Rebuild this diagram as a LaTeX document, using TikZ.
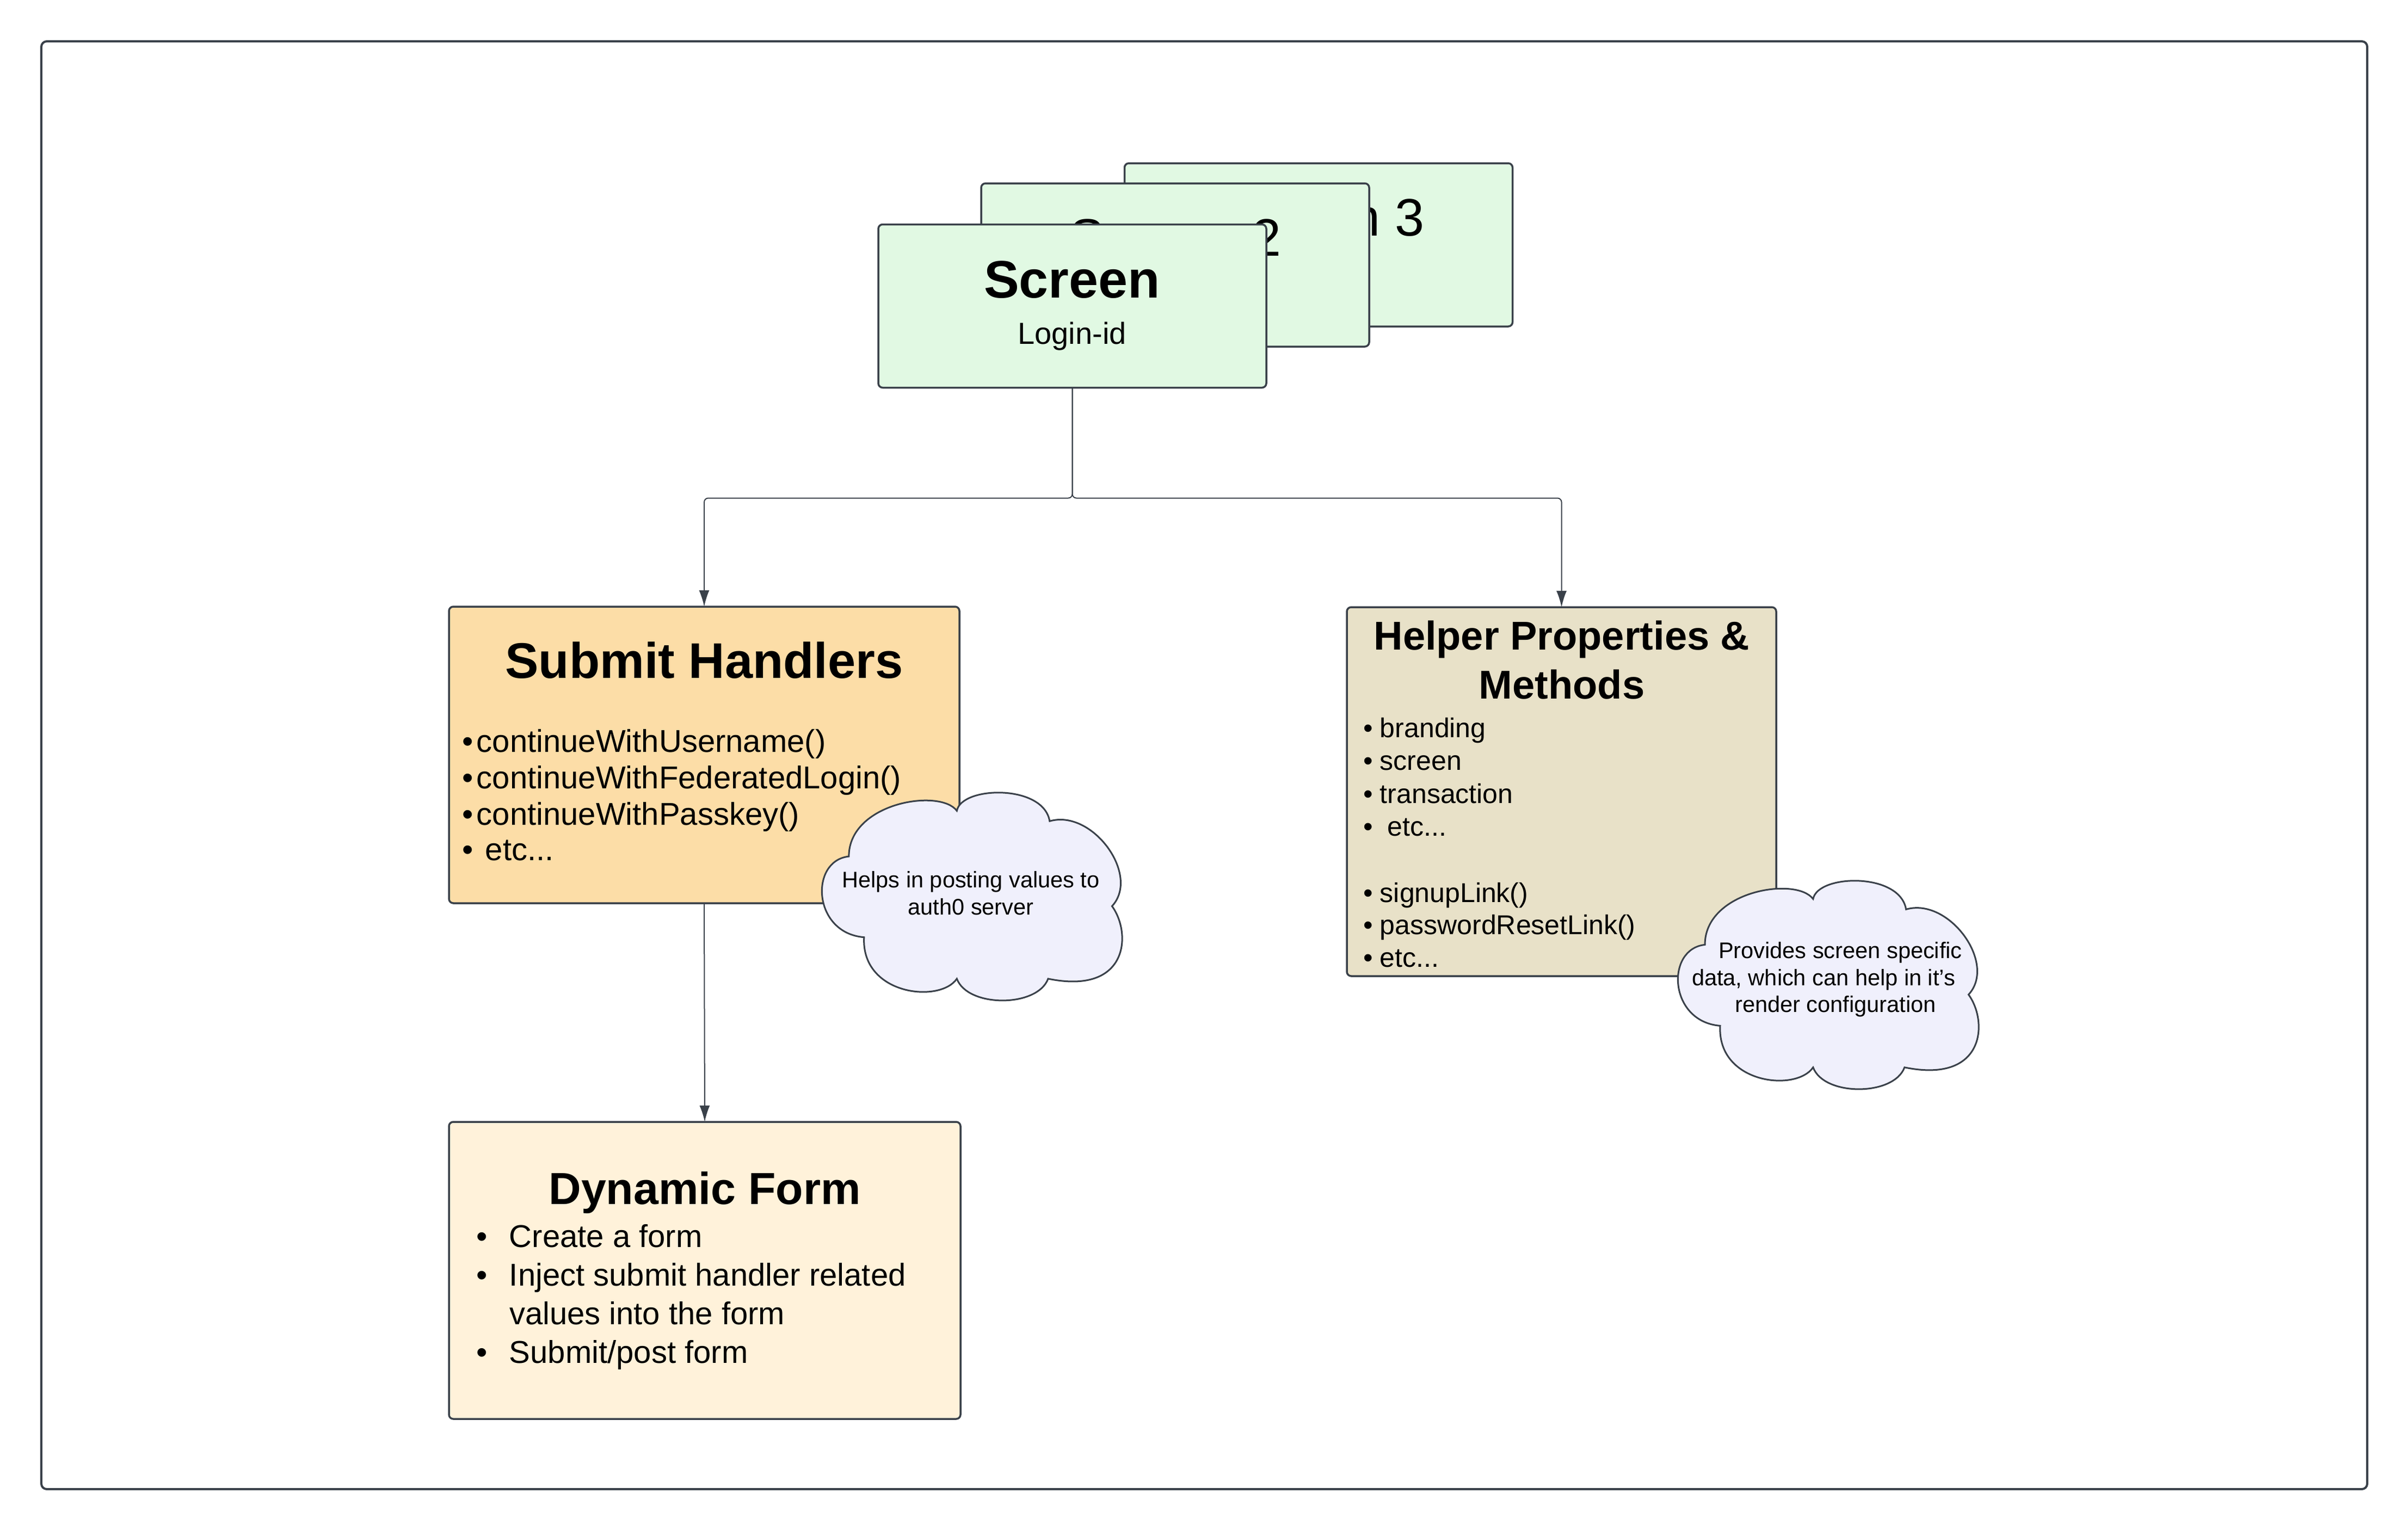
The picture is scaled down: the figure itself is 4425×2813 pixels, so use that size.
\documentclass[tikz,border=0pt]{standalone}
\usepackage{fontspec}
\setmainfont{Liberation Sans}
\usetikzlibrary{arrows.meta}
\definecolor{strokec}{HTML}{3A414A}
\definecolor{screenfill}{HTML}{E1F9E3}
\definecolor{submitfill}{HTML}{FCDDA7}
\definecolor{helperfill}{HTML}{E8E1C8}
\definecolor{dynfill}{HTML}{FFF2DA}
\definecolor{cloudfill}{HTML}{F0F0FC}
\newcommand\myfs[1]{\fontsize{#1}{#1}\selectfont}
\newcommand\cloudshape{(0.10,0.31) .. controls (0.10,0.05) and (0.40,-0.02) .. (0.455,0.09)
 .. controls (0.47,-0.03) and (0.74,-0.04) .. (0.76,0.14)
 .. controls (0.90,0.08) and (1.06,0.40) .. (0.965,0.55)
 .. controls (1.03,0.68) and (1.02,0.98) .. (0.755,0.90)
 .. controls (0.72,1.04) and (0.49,1.04) .. (0.455,0.90)
 .. controls (0.40,1.02) and (0.14,0.98) .. (0.15,0.70)
 .. controls (-0.02,0.68) and (-0.03,0.33) .. (0.10,0.31) -- cycle}
\begin{document}
\begin{tikzpicture}[x=0.2pt,y=-0.2pt,
  box/.style={draw=strokec, line width=0.7pt, rounded corners=1.6pt, inner sep=0pt, outer sep=0pt},
  txt/.style={inner sep=0pt, outer sep=0pt, text=black},
  ctr/.style={txt, anchor=base},
  lft/.style={txt, anchor=base west},
  conn/.style={draw=strokec, line width=0.4pt, -{Latex[length=6pt,width=3.8pt]}},
  cloudsty/.style={draw=strokec, line width=0.6pt, fill=cloudfill}]
\useasboundingbox (0,0) rectangle (4425,2813);
% frame
\node[box, line width=0.8pt, rounded corners=2pt, minimum width=854.8pt, minimum height=532.2pt] (frame) at (2213,1406.5) {};
% screens stack
\node[box, fill=screenfill, minimum width=142.6pt, minimum height=60pt] (s3) at (2423,450) {};
\node[ctr, font=\myfs{19.4pt}] (s3t) at (2423,433) {Screen 3};
\node[box, fill=screenfill, minimum width=142.6pt, minimum height=60pt] (s2) at (2159.5,487) {};
\node[ctr, font=\myfs{19.4pt}] (s2t) at (2160,470) {Screen 2};
\node[box, fill=screenfill, minimum width=142.6pt, minimum height=60pt] (s1) at (1970.5,562.5) {};
\node[ctr, font=\myfs{19.4pt}\bfseries] (s1t) at (1970,547) {Screen};
\node[ctr, font=\myfs{11.2pt}] (s1s) at (1970,632) {Login-id};
% boxes
\node[box, fill=submitfill, minimum width=187.6pt, minimum height=109pt] (sh) at (1294,1387.5) {};
\node[box, fill=helperfill, minimum width=157.8pt, minimum height=135.6pt] (hp) at (2869.5,1455) {};
\node[box, fill=dynfill, minimum width=188pt, minimum height=109.2pt] (df) at (1295,2335) {};
% connectors
\draw[conn, rounded corners=1.5pt] (s1.south) -- ++(0,203) -| (sh.north);
\draw[conn, rounded corners=1.5pt] (s1.south) -- ++(0,203) -| (hp.north);
\draw[conn] (sh.south) -- (df.north);
% submit handlers text
\node[ctr, font=\myfs{18.4pt}\bfseries] (sht) at (1294,1246) {Submit Handlers};
\node[lft, font=\myfs{11.6pt}] (sh1) at (849,1382) {\makebox[5.4pt][l]{•}continueWithUsername()};
\node[lft, font=\myfs{11.6pt}] (sh2) at (849,1449) {\makebox[5.4pt][l]{•}continueWithFederatedLogin()};
\node[lft, font=\myfs{11.6pt}] (sh3) at (849,1516) {\makebox[5.4pt][l]{•}continueWithPasskey()};
\node[lft, font=\myfs{11.6pt}] (sh4) at (849,1581) {\makebox[8.6pt][l]{•}etc...};
% helper text
\node[ctr, font=\myfs{14.8pt}\bfseries] (hpt1) at (2870,1194) {Helper Properties \&};
\node[ctr, font=\myfs{14.8pt}\bfseries] (hpt2) at (2870,1284) {Methods};
\node[lft, font=\myfs{10pt}] (hp1) at (2505.5,1355) {\makebox[6.1pt][l]{•}branding};
\node[lft, font=\myfs{10pt}] (hp2) at (2505.5,1415) {\makebox[6.1pt][l]{•}screen};
\node[lft, font=\myfs{10pt}] (hp3) at (2505.5,1476) {\makebox[6.1pt][l]{•}transaction};
\node[lft, font=\myfs{10pt}] (hp4) at (2505.5,1536) {\makebox[8.9pt][l]{•}etc...};
\node[lft, font=\myfs{10pt}] (hp5) at (2505.5,1658) {\makebox[6.1pt][l]{•}signupLink()};
\node[lft, font=\myfs{10pt}] (hp6) at (2505.5,1717) {\makebox[6.1pt][l]{•}passwordResetLink()};
\node[lft, font=\myfs{10pt}] (hp7) at (2505.5,1777) {\makebox[6.1pt][l]{•}etc...};
% dynamic form text
\node[ctr, font=\myfs{16.5pt}\bfseries] (dft) at (1295,2213) {Dynamic Form};
\node[lft, font=\myfs{11.6pt}] (df1) at (875,2292) {\makebox[12.2pt][l]{•}Create a form};
\node[lft, font=\myfs{11.6pt}] (df2) at (875,2363) {\makebox[12.2pt][l]{•}Inject submit handler related};
\node[lft, font=\myfs{11.6pt}] (df3) at (936,2434) {values into the form};
\node[lft, font=\myfs{11.6pt}] (df4) at (875,2505) {\makebox[12.2pt][l]{•}Submit/post form};
% clouds
\begin{scope}[shift={(1504,1456)}, xscale=559, yscale=381]
\path[cloudsty] \cloudshape;
\end{scope}
\node[ctr, font=\myfs{8.3pt}] (c1a) at (1784,1631) {Helps in posting values to};
\node[ctr, font=\myfs{8.3pt}] (c1b) at (1784,1681) {auth0 server};
\begin{scope}[shift={(3077,1618)}, xscale=560, yscale=382]
\path[cloudsty] \cloudshape;
\end{scope}
\node[ctr, font=\myfs{8.3pt}] (c2a) at (3382,1761) {Provides screen specific};
\node[ctr, font=\myfs{8.3pt}] (c2b) at (3351,1811) {data, which can help in it's};
\node[ctr, font=\myfs{8.3pt}] (c2c) at (3373,1860) {render configuration};
\end{tikzpicture}
\end{document}
